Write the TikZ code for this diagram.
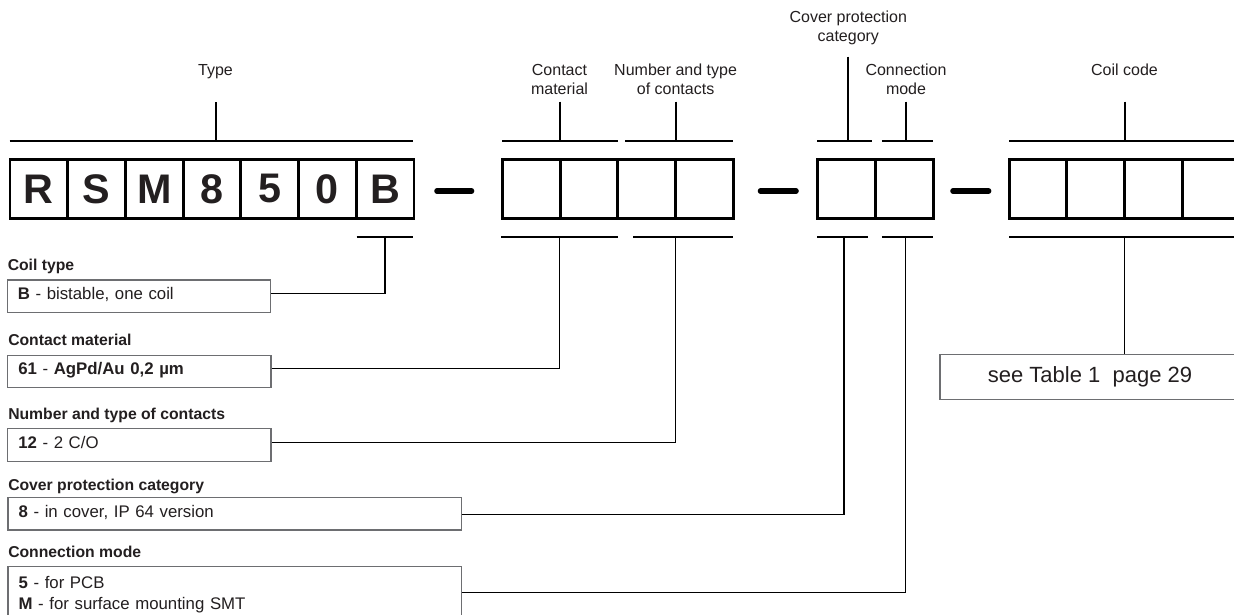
\documentclass[tikz,border=0pt]{standalone}
\usepackage{fontspec}
\setmainfont{Liberation Sans}
\definecolor{ink}{HTML}{231F20}
\definecolor{boxgray}{HTML}{6D6E71}
\begin{document}
\begin{tikzpicture}[x=0.75pt,y=-0.75pt,
  cell/.style={draw=black,line width=2.2pt,minimum width=43.3pt,minimum height=44.25pt,inner sep=0pt,font=\fontsize{31}{31}\selectfont\bfseries,text=ink},
  bracket/.style={line width=1.5pt,draw=black},
  tickup/.style={line width=1.5pt,draw=black},
  conn/.style={line width=0.8pt,draw=black},
  dashbar/.style={line width=4.2pt,line cap=round,draw=black},
  toplabel/.style={font=\fontsize{12}{14.25}\selectfont,text=ink,align=center,inner sep=0pt},
  head/.style={font=\fontsize{11.8}{14}\selectfont\bfseries,text=ink,inner sep=0pt,anchor=base west},
  lbox/.style={draw=boxgray,line width=1pt,anchor=west,align=left,inner xsep=8pt,inner ysep=3pt,text height=11.8pt,text depth=6.6pt,font=\fontsize{12.6}{16.1}\selectfont,text=ink},
  seebox/.style={draw=boxgray,line width=1pt,minimum width=225pt,minimum height=33.75pt,inner sep=0pt,font=\fontsize{16.5}{18}\selectfont,text=ink}
]
\useasboundingbox (0,0) rectangle (1234,614);
\fill[white] (0,0) rectangle (1234,614);
\clip (0,0) rectangle (1234,614);

% ---- code cells ----
\foreach \l [count=\i] in {R,S,M,8,5,0,B}
  \node[cell] (a\i) at ({10+57.71*(\i-0.5)},188.8) {\l};
\foreach \i in {1,...,4}
  \node[cell] (b\i) at ({502.2+57.8*(\i-0.5)},188.8) {};
\foreach \i in {1,2}
  \node[cell] (c\i) at ({817.1+58.25*(\i-0.5)},188.8) {};
\foreach \i in {1,...,4}
  \node[cell] (d\i) at ({1009.2+57.7*(\i-0.5)},188.8) {};

% ---- dashes ----
\coordinate (da1) at (437,191); \coordinate (da2) at (471.5,191);
\coordinate (db1) at (760.5,191); \coordinate (db2) at (796,191);
\coordinate (dc1) at (953,191); \coordinate (dc2) at (988.6,191);
\draw[dashbar] (da1) -- (da2);
\draw[dashbar] (db1) -- (db2);
\draw[dashbar] (dc1) -- (dc2);

% ---- top labels ----
\node[toplabel,anchor=base] (lType) at (215.5,75) {Type};
\node[toplabel,anchor=north] (lCM) at (559.5,63.8) {Contact\\material};
\node[toplabel,anchor=north] (lNT) at (675.6,63.8) {Number and type\\of contacts};
\node[toplabel,anchor=north] (lCP) at (848.3,10.3) {Cover protection\\category};
\node[toplabel,anchor=north] (lCN) at (906,63.8) {Connection\\mode};
\node[toplabel,anchor=base] (lCC) at (1124.5,75.5) {Coil code};

% ---- top brackets ----
\coordinate (tT1) at (9.5,141);   \coordinate (tT2) at (412.5,141);  \coordinate (tTk) at (215.5,102.3);
\coordinate (tM1) at (502,141);   \coordinate (tM2) at (618.2,141);  \coordinate (tMk) at (559.5,101.7);
\coordinate (tN1) at (625,141);   \coordinate (tN2) at (733.4,141);  \coordinate (tNk) at (675.6,101.7);
\coordinate (tP1) at (817,141);   \coordinate (tP2) at (871.7,141);  \coordinate (tPk) at (848.3,56.7);
\coordinate (tC1) at (881.8,141); \coordinate (tC2) at (933.2,141);  \coordinate (tCk) at (906,101.7);
\coordinate (tK1) at (1009,141);  \coordinate (tK2) at (1245,141);   \coordinate (tKk) at (1124.5,101.7);
\foreach \g in {T,M,N,P,C,K}{
  \draw[bracket] (t\g1) -- (t\g2);
  \draw[tickup] (t\g k) -- (t\g k |- t\g1);
}

% ---- bottom brackets ----
\coordinate (uT1) at (356.7,237.3); \coordinate (uT2) at (412.7,237.3); \coordinate (uTk) at (385,237.3);
\coordinate (uM1) at (501.4,237.3); \coordinate (uM2) at (618.2,237.3); \coordinate (uMk) at (559.5,237.3);
\coordinate (uN1) at (633,237.3);   \coordinate (uN2) at (733.4,237.3); \coordinate (uNk) at (675.6,237.3);
\coordinate (uP1) at (817,237.3);   \coordinate (uP2) at (867.7,237.3); \coordinate (uPk) at (844,237.3);
\coordinate (uC1) at (881.8,237.3); \coordinate (uC2) at (933.2,237.3); \coordinate (uCk) at (905.7,237.3);
\coordinate (uK1) at (1009,237.3);  \coordinate (uK2) at (1245,237.3);  \coordinate (uKk) at (1124.5,237.3);
\foreach \g in {T,M,N,P,C,K}
  \draw[bracket] (u\g1) -- (u\g2);

% ---- left legend ----
\node[head] (hCT) at (7.5,270) {Coil type};
\node[lbox,text width=181.6pt] (box1) at (6.5,296.2) {\textbf{B} - bistable, one coil};
\node[head] (hCM) at (8,345) {Contact material};
\node[lbox,text width=181.6pt] (box2) at (7,371.5) {\textbf{61} - \textbf{AgPd/Au 0,2 µm}};
\node[head] (hCN1) at (8,419.7) {Number and type of contacts};
\node[lbox,text width=181.6pt] (box3) at (7,445) {\textbf{12} - 2 C/O};
\node[head] (hCP) at (8,490.7) {Cover protection category};
\node[lbox,text width=324pt] (box4) at (7.3,513.7) {\textbf{8} - in cover, IP 64 version};
\node[head] (hCN) at (8,557.4) {Connection mode};
\node[lbox,text width=324pt,anchor=north west,text height=13.35pt,text depth=23.5pt] (box5) at (7.3,565.7)
  {\textbf{5} - for PCB\\\textbf{M} - for surface mounting SMT};

% ---- see table box ----
\node[seebox] (seet) at (1090,376.8) {see Table 1\ \ page 29};

% ---- connectors ----
\draw[conn] ([yshift=2.2pt]box1.east) -| (uTk);
\draw[conn] ([yshift=2.2pt]box2.east) -| (uMk);
\draw[conn] ([yshift=2pt]box3.east) -| (uNk);
\draw[conn] ([yshift=-0.5pt]box4.east) -| (uPk);
\draw[conn] ([yshift=1.9pt]box5.east) -| (uCk);
\draw[conn] (uKk) -- (uKk |- seet.north);
\end{tikzpicture}
\end{document}
